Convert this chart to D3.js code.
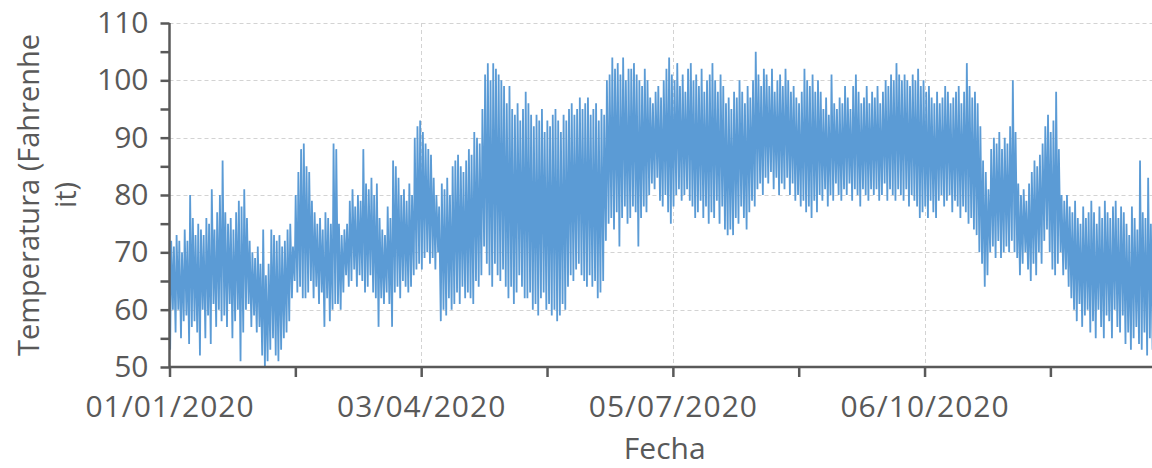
<!DOCTYPE html>
<html>
<head>
<meta charset="utf-8">
<script src="https://cdn.jsdelivr.net/npm/d3@7/dist/d3.min.js"></script>
<style>
  html, body { margin: 0; padding: 0; background: #fff; }
  svg { display: block; }
</style>
</head>
<body>
<script>
// ---- Data ----
const startDate = "2020-01-01";
const endDate = "2021-01-01";
// Daily maximum temperature (°F), one value per day of 2020
const dailyHigh = [
  72, 71, 73, 72, 70, 74, 72, 80, 76, 73,
  75, 74, 73, 76, 75, 81, 74, 77, 80, 86,
  77, 75, 76, 74, 77, 79, 78, 81, 76, 72,
  70, 69, 71, 68, 74, 66, 68, 74, 73, 72,
  73, 71, 72, 74, 75, 71, 80, 84, 88, 89,
  85, 84, 79, 77, 75, 76, 74, 77, 76, 75,
  89, 88, 75, 73, 74, 75, 79, 81, 78, 80,
  79, 88, 82, 81, 83, 80, 82, 76, 74, 73,
  78, 76, 86, 85, 83, 80, 81, 79, 82, 80,
  90, 92, 93, 91, 89, 88, 87, 83, 80, 78,
  82, 81, 83, 80, 85, 86, 87, 85, 84, 86,
  88, 87, 91, 90, 89, 95, 101, 103, 100, 103,
  102, 101, 100, 99, 96, 99, 95, 94, 96, 93,
  95, 98, 96, 94, 92, 94, 93, 95, 91, 93,
  92, 94, 95, 93, 91, 94, 93, 95, 96, 94,
  95, 97, 95, 96, 97, 94, 95, 96, 93, 95,
  94, 100, 101, 104, 102, 103, 101, 104, 100, 102,
  102, 103, 101, 100, 99, 102, 100, 97, 96, 98,
  99, 97, 100, 102, 104, 101, 100, 103, 99, 101,
  98, 102, 103, 100, 101, 99, 102, 98, 100, 101,
  103, 100, 98, 101, 99, 96, 97, 95, 98, 97,
  100, 98, 96, 99, 97, 100, 105, 101, 99, 102,
  101, 99, 102, 98, 100, 101, 99, 102, 100, 98,
  99, 97, 96, 98, 102, 100, 99, 101, 98, 100,
  98, 95, 97, 94, 101, 96, 95, 97, 96, 99,
  97, 95, 99, 101, 98, 96, 97, 99, 96, 98,
  97, 99, 96, 98, 100, 99, 101, 100, 103, 101,
  100, 101, 100, 99, 101, 100, 102, 99, 100, 98,
  99, 97, 96, 98, 96, 97, 99, 98, 96, 97,
  98, 99, 96, 98, 103, 99, 97, 98, 96, 92,
  86, 84, 81, 88, 90, 89, 91, 88, 90, 89,
  92, 100, 91, 82, 80, 81, 79, 82, 84, 86,
  85, 87, 89, 92, 94, 91, 93, 98, 88, 80,
  79, 80, 78, 77, 79, 76, 75, 78, 76, 77,
  79, 77, 75, 78, 76, 79, 77, 76, 78, 79,
  76, 78, 77, 75, 73, 78, 76, 74, 86, 77,
  76, 83, 75, 78, 77, 76
];
// Daily minimum temperature (°F), one value per day of 2020
const dailyLow = [
  53, 60, 56, 60, 55, 58, 59, 54, 57, 58,
  56, 52, 60, 55, 59, 54, 61, 57, 60, 58,
  59, 57, 61, 55, 58, 60, 51, 56, 60, 61,
  57, 59, 56, 57, 52, 50, 51, 53, 55, 52,
  51, 53, 55, 56, 58, 62, 65, 63, 64, 62,
  62, 63, 65, 62, 64, 61, 63, 57, 62, 58,
  60, 61, 61, 60, 63, 66, 64, 65, 67, 64,
  66, 65, 63, 64, 66, 63, 62, 57, 62, 61,
  63, 61, 57, 63, 64, 62, 65, 64, 63, 64,
  66, 67, 68, 67, 69, 70, 68, 69, 67, 70,
  58, 60, 59, 62, 60, 61, 63, 61, 64, 62,
  63, 62, 61, 65, 64, 66, 71, 68, 66, 64,
  68, 66, 65, 67, 64, 62, 64, 61, 63, 66,
  64, 62, 62, 63, 60, 61, 59, 62, 63, 60,
  61, 59, 60, 58, 59, 61, 60, 64, 66, 65,
  67, 68, 66, 65, 64, 66, 64, 65, 62, 63,
  65, 72, 75, 76, 74, 77, 71, 76, 78, 75,
  76, 78, 77, 71, 76, 78, 77, 80, 82, 81,
  83, 79, 78, 80, 77, 75, 78, 80, 81, 79,
  80, 81, 79, 78, 76, 77, 79, 76, 78, 75,
  77, 76, 79, 75, 78, 74, 73, 74, 73, 76,
  75, 78, 76, 74, 77, 79, 78, 81, 82, 80,
  83, 82, 84, 81, 83, 80, 82, 81, 83, 80,
  82, 79, 80, 78, 79, 77, 78, 76, 79, 77,
  80, 79, 81, 78, 80, 79, 82, 80, 79, 81,
  80, 82, 79, 81, 80, 78, 81, 80, 79, 81,
  80, 81, 79, 80, 82, 79, 81, 80, 79, 81,
  80, 79, 81, 78, 80, 79, 78, 76, 77, 78,
  76, 79, 77, 76, 79, 80, 78, 79, 80, 77,
  79, 78, 76, 78, 77, 75, 76, 74, 73, 70,
  68, 64, 66, 70, 71, 69, 72, 69, 70, 71,
  70, 72, 70, 69, 66, 68, 70, 67, 65, 68,
  66, 70, 68, 72, 74, 70, 67, 66, 68, 70,
  66, 67, 64, 62, 60, 58, 61, 57, 59, 60,
  56, 58, 55, 60, 57, 55, 59, 58, 55, 60,
  57, 56, 59, 54, 56, 53, 55, 57, 54, 53,
  56, 52, 55, 53, 55, 57
];
const xTickLabels = ["01/01/2020", "03/04/2020", "05/07/2020", "06/10/2020"];
const yTickValues = [50, 60, 70, 80, 90, 100, 110];
const yMinorValues = [55, 65, 75, 85, 95, 105];
const xTitle = "Fecha";
const yTitleLines = ["Temperatura (Fahrenhe", "it)"];

(function draw() {
  // ---- Layout ----
  const W = 1152, H = 468;
  const pL = 169.5, pR = 1160, pT = 23, pB = 367;
  const axisColor = "#595959";
  const textColor = "#595959";
  const lineColor = "#5b9bd5";
  const fontFamily = "'Open Sans', 'Noto Sans', sans-serif";
  const fontSize = "30px";

  const parseDate = d3.utcParse("%Y-%m-%d");
  const parseTick = d3.utcParse("%d/%m/%Y");
  const fmtTick = d3.utcFormat("%d/%m/%Y");
  const t0 = parseDate(startDate);
  const DAY = 864e5;

  // Each day: low (early morning) then high (afternoon)
  const series = [];
  dailyHigh.forEach((hi, i) => {
    series.push({ t: new Date(t0.getTime() + (i + 0.25) * DAY), v: dailyLow[i] });
    series.push({ t: new Date(t0.getTime() + (i + 0.62) * DAY), v: hi });
  });

  const x = d3.scaleUtc().domain([t0, parseDate(endDate)]).range([pL, pR]);
  const y = d3.scaleLinear().domain([50, 110]).range([pB, pT]);

  const svg = d3.select("body").append("svg")
    .attr("width", W).attr("height", H)
    .style("background", "#fff");

  const majorDates = xTickLabels.map(parseTick);
  const step = majorDates[1] - majorDates[0];
  const minorDates = majorDates.map(d => new Date(d.getTime() + step / 2));

  // Gridlines
  const grid = svg.append("g").attr("stroke", "#d3d3d3").attr("stroke-width", 1)
    .attr("stroke-dasharray", "4,3");
  grid.selectAll("line.h").data(yTickValues.filter(v => v > 50)).join("line")
    .attr("class", "h")
    .attr("x1", pL).attr("x2", W)
    .attr("y1", d => Math.round(y(d)) + 0.5).attr("y2", d => Math.round(y(d)) + 0.5);
  grid.selectAll("line.v").data(majorDates.slice(1)).join("line")
    .attr("class", "v")
    .attr("y1", pT).attr("y2", pB)
    .attr("x1", d => Math.round(x(d)) + 0.5).attr("x2", d => Math.round(x(d)) + 0.5);

  // Line
  const line = d3.line().x(d => x(d.t)).y(d => y(d.v));
  svg.append("path").datum(series)
    .attr("fill", "none")
    .attr("stroke", lineColor)
    .attr("stroke-width", 1.8)
    .attr("d", line);

  // Y axis
  const yAxis = svg.append("g").attr("transform", `translate(${pL},0)`)
    .call(d3.axisLeft(y).tickValues(yTickValues).tickSize(9).tickPadding(12));
  const yMinor = svg.append("g").attr("transform", `translate(${pL},0)`)
    .call(d3.axisLeft(y).tickValues(yMinorValues).tickSize(9).tickFormat(""));

  // X axis
  const xAxis = svg.append("g").attr("transform", `translate(0,${pB})`)
    .call(d3.axisBottom(x).tickValues(majorDates).tickFormat(fmtTick).tickSize(10).tickPadding(19));
  const xMinor = svg.append("g").attr("transform", `translate(0,${pB})`)
    .call(d3.axisBottom(x).tickValues(minorDates).tickSize(10).tickFormat(""));

  [yAxis, yMinor, xAxis, xMinor].forEach(g => {
    g.select(".domain").attr("stroke", axisColor).attr("stroke-width", 2.5);
    g.selectAll(".tick line").attr("stroke", axisColor).attr("stroke-width", 2.5);
    g.selectAll(".tick text")
      .attr("fill", textColor)
      .style("font-family", fontFamily)
      .style("font-size", fontSize);
  });
  xAxis.selectAll(".tick text").style("letter-spacing", "1px");
  yAxis.select(".domain").attr("d", `M0,${pB}V${pT}`);
  yMinor.select(".domain").remove();
  xMinor.select(".domain").remove();
  xAxis.select(".domain").attr("d", `M${pL},0H${W}`);

  // Axis titles
  svg.append("text")
    .attr("x", (pL + pR) / 2).attr("y", 459)
    .attr("text-anchor", "middle")
    .attr("fill", textColor)
    .style("font-family", fontFamily).style("font-size", fontSize)
    .text(xTitle);

  const yTitleX = [39, 76];
  yTitleLines.forEach((txt, i) => {
    svg.append("text")
      .attr("transform", `translate(${yTitleX[i]},${(pT + pB) / 2}) rotate(-90)`)
      .attr("text-anchor", "middle")
      .attr("fill", textColor)
      .style("font-family", fontFamily).style("font-size", "29px")
      .text(txt);
  });
})();
</script>
</body>
</html>
